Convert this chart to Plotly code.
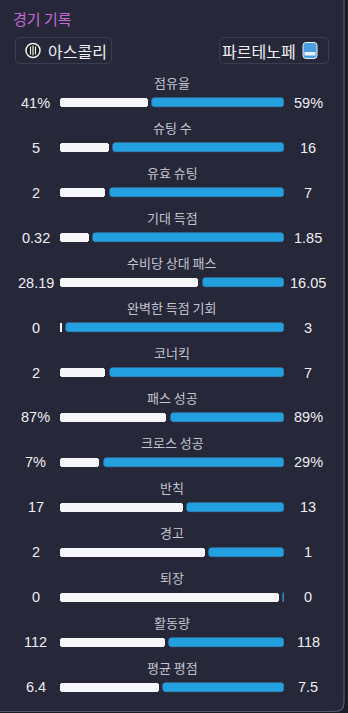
import plotly.graph_objects as go

# ---- data ----
stat_labels = ["점유율", "슈팅 수", "유효 슈팅", "기대 득점", "수비당 상대 패스", "완벽한 득점 기회",
               "코너킥", "패스 성공", "크로스 성공", "반칙", "경고", "퇴장", "활동량", "평균 평점"]
home_values = [41, 5, 2, 0.32, 28.19, 0, 2, 87, 7, 17, 2, 0, 112, 6.4]
away_values = [59, 16, 7, 1.85, 16.05, 3, 7, 89, 29, 13, 1, 0, 118, 7.5]
home_text = ["41%", "5", "2", "0.32", "28.19", "0", "2", "87%", "7%", "17", "2", "0", "112", "6.4"]
away_text = ["59%", "16", "7", "1.85", "16.05", "3", "7", "89%", "29%", "13", "1", "0", "118", "7.5"]
title_text = "경기 기록"
home_team = "아스콜리"
away_team = "파르테노페"

# ---- styling / layout constants ----
W, H = 348, 713
TRACK_L, TRACK_R = 60, 284
GAP = 4.3 / (TRACK_R - TRACK_L)
MINW = 1.2 / (TRACK_R - TRACK_L)
ROW0, ROWSTEP = 102.7, 44.97
PANEL_BG = "#262739"
OUTER_BG = "#1b1c27"
WHITE_BAR = "#f7f7f9"
BLUE_BAR = "#22a0e0"
FONT = "Noto Sans CJK KR, Noto Sans, sans-serif"
NUM_FONT = "Liberation Sans, Arial, sans-serif"

rows = list(range(len(stat_labels)))
fracs = []
for l, r in zip(home_values, away_values):
    s = l + r
    fracs.append(l / s if s > 0 else 1.0)

w_len, b_base, b_len = [], [], []
for f in fracs:
    if f >= 1.0:
        wl = 1 - GAP - MINW
        bb = 1 - MINW
    else:
        wl = max(f - GAP, MINW)
        bb = max(f, wl + GAP)
    w_len.append(wl)
    b_base.append(bb)
    b_len.append(max(1 - bb, MINW))

bar_h = 8.5 / ROWSTEP

fig = go.Figure()
fig.add_trace(go.Bar(y=rows, x=w_len, base=[0] * len(rows), orientation="h",
                     marker=dict(color=WHITE_BAR, line=dict(width=0)), width=bar_h,
                     hoverinfo="skip", showlegend=False))
fig.add_trace(go.Bar(y=rows, x=b_len, base=b_base, orientation="h",
                     marker=dict(color=BLUE_BAR, line=dict(width=0.6, color="#3a86bd")), width=bar_h,
                     hoverinfo="skip", showlegend=False))

y0 = -ROW0 / ROWSTEP
y1 = (H - ROW0) / ROWSTEP


def py(p):
    # pixel y -> data y
    return (p - ROW0) / ROWSTEP


ann = []
for i in rows:
    ann.append(dict(x=172 / W, xref="paper", y=i - 20 / ROWSTEP, yref="y", text=stat_labels[i],
                    showarrow=False, xanchor="center", yanchor="middle",
                    font=dict(size=13, color="#c3c5d0", family=FONT)))
    ann.append(dict(x=35.5 / W, xref="paper", y=i, yref="y", text=home_text[i],
                    showarrow=False, xanchor="center", yanchor="middle",
                    font=dict(size=14.5, color="#eeeef2", family=NUM_FONT)))
    ann.append(dict(x=308 / W, xref="paper", y=i, yref="y", text=away_text[i],
                    showarrow=False, xanchor="center", yanchor="middle",
                    font=dict(size=14.5, color="#eeeef2", family=NUM_FONT)))

ann.append(dict(x=11 / W, xref="paper", y=py(18), yref="y", text=title_text, showarrow=False,
                xanchor="left", yanchor="middle", font=dict(size=15, color="#c46ad6", family=FONT)))
ann.append(dict(x=46 / W, xref="paper", y=py(50.5), yref="y", text=home_team, showarrow=False,
                xanchor="left", yanchor="middle", font=dict(size=16, color="#f0f0f4", family=FONT)))
ann.append(dict(x=298 / W, xref="paper", y=py(50.5), yref="y", text=away_team, showarrow=False,
                xanchor="right", yanchor="middle", font=dict(size=16, color="#f0f0f4", family=FONT)))


def rect_path_px(x0, ypx0, x1, ypx1, r):
    def X(v):
        return v / W

    def Y(v):
        return py(v)
    rx = r / W
    ry = r / ROWSTEP
    a, b, c, d = X(x0), Y(ypx0), X(x1), Y(ypx1)
    return (f"M{a + rx},{b} L{c - rx},{b} Q{c},{b} {c},{b + ry} "
            f"L{c},{d - ry} Q{c},{d} {c - rx},{d} L{a + rx},{d} "
            f"Q{a},{d} {a},{d - ry} L{a},{b + ry} Q{a},{b} {a + rx},{b} Z")


shapes = [
    dict(type="path", xref="paper", yref="y", path=rect_path_px(-12, -12, 344, 711.5, 9),
         fillcolor=PANEL_BG, line=dict(color="#55566a", width=1.2), layer="below"),
    dict(type="path", xref="paper", yref="y", path=rect_path_px(15.5, 37.5, 111.5, 63.5, 4),
         fillcolor=PANEL_BG, line=dict(color="#3b3c50", width=1), layer="below"),
    dict(type="path", xref="paper", yref="y", path=rect_path_px(219.5, 37.5, 328.5, 63.5, 4),
         fillcolor=PANEL_BG, line=dict(color="#3b3c50", width=1), layer="below"),
    # home logo (striped badge)
    dict(type="circle", xref="paper", yref="y", x0=26 / W, x1=40 / W, y0=py(43.5), y1=py(57.5),
         fillcolor="#1a1a1a", line=dict(color="#f0f0f0", width=1.5), layer="above"),
    dict(type="line", xref="paper", yref="y", x0=30.5 / W, x1=30.5 / W, y0=py(46.5), y1=py(54.5),
         line=dict(color="#f0f0f0", width=1.2), layer="above"),
    dict(type="line", xref="paper", yref="y", x0=33 / W, x1=33 / W, y0=py(45.5), y1=py(55.5),
         line=dict(color="#f0f0f0", width=1.2), layer="above"),
    dict(type="line", xref="paper", yref="y", x0=35.5 / W, x1=35.5 / W, y0=py(46.5), y1=py(54.5),
         line=dict(color="#f0f0f0", width=1.2), layer="above"),
    # away logo (blue shield)
    dict(type="path", xref="paper", yref="y", path=rect_path_px(303, 42.5, 317, 58.5, 3),
         fillcolor="#4a9ee0", line=dict(color="#e8f0f8", width=1), layer="above"),
    dict(type="rect", xref="paper", yref="y", x0=304.5 / W, x1=315.5 / W, y0=py(52), y1=py(55.5),
         fillcolor="#e8f0f8", line=dict(width=0), layer="above"),
]

fig.update_layout(
    width=W, height=H, margin=dict(l=0, r=0, t=0, b=0),
    paper_bgcolor=OUTER_BG, plot_bgcolor="rgba(0,0,0,0)",
    barmode="overlay", bargap=0, barcornerradius=3,
    xaxis=dict(domain=[TRACK_L / W, TRACK_R / W], range=[0, 1], visible=False, fixedrange=True),
    yaxis=dict(domain=[0, 1], range=[y1, y0], visible=False, fixedrange=True),
    annotations=ann, shapes=shapes, showlegend=False,
)

fig.write_html("out.html", config={"displayModeBar": False})
